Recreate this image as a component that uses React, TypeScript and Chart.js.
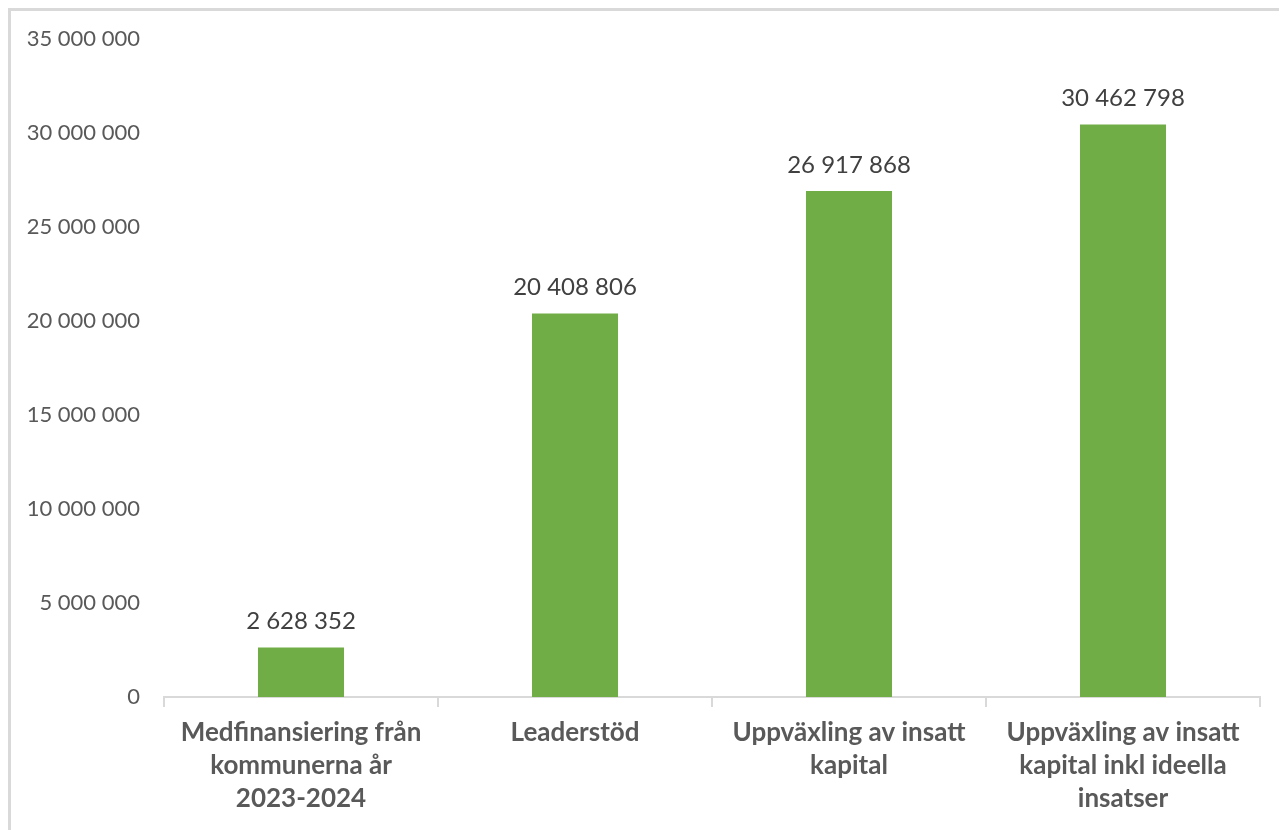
import React, { useEffect, useRef } from "react";
import { Chart, registerables } from "chart.js";

Chart.register(...registerables);

const categories: string[][] = [
  ["Medfinansiering från", "kommunerna år", "2023-2024"],
  ["Leaderstöd"],
  ["Uppväxling av insatt", "kapital"],
  ["Uppväxling av insatt", "kapital inkl ideella", "insatser"],
];
const values: number[] = [2628352, 20408806, 26917868, 30462798];
const yMax = 35000000;
const yStep = 5000000;

const fmt = (v: number) =>
  Math.round(v)
    .toString()
    .replace(/\B(?=(\d{3})+(?!\d))/g, " ");

const FONT = "Lato, 'Open Sans', sans-serif";

const labelPlugin = {
  id: "barLabels",
  afterDatasetsDraw(chart: any) {
    const ctx = chart.ctx;
    const meta = chart.getDatasetMeta(0);
    ctx.save();
    ctx.font = `24px ${FONT}`;
    ctx.fillStyle = "#404040";
    ctx.textAlign = "center";
    ctx.textBaseline = "middle";
    meta.data.forEach((bar: any, i: number) => {
      ctx.fillText(fmt(values[i]), bar.x, bar.y - 26);
    });
    ctx.restore();
  },
};

export default function App() {
  const ref = useRef<HTMLCanvasElement | null>(null);
  useEffect(() => {
    if (!ref.current) return;
    const chart = new Chart(ref.current, {
      type: "bar",
      data: {
        labels: categories as any,
        datasets: [
          {
            data: values,
            backgroundColor: "#70AD47",
            categoryPercentage: 1,
            barPercentage: 0.314,
          },
        ],
      },
      options: {
        animation: false,
        responsive: false,
        maintainAspectRatio: false,
        layout: { padding: { top: 0, right: 27, left: 0, bottom: 0 } },
        plugins: { legend: { display: false }, tooltip: { enabled: false } },
        scales: {
          x: {
            offset: true,
            grid: {
              display: true,
              drawOnChartArea: false,
              drawTicks: true,
              tickLength: 10,
              color: "#d9d9d9",
              lineWidth: 2,
              offset: true,
            },
            border: { display: true, color: "#d9d9d9", width: 2 },
            ticks: {
              color: "#595959",
              font: { family: FONT, size: 26, weight: "bold", lineHeight: 1.27 },
              padding: 9,
              maxRotation: 0,
              minRotation: 0,
              autoSkip: false,
            },
            afterFit(scale: any) {
              scale.height = 133;
            },
          },
          y: {
            min: 0,
            max: yMax,
            grid: { display: false, drawTicks: false },
            border: { display: false },
            ticks: {
              stepSize: yStep,
              color: "#595959",
              font: { family: FONT, size: 22 },
              padding: 24,
              callback: (v: any) => fmt(Number(v)),
            },
            afterFit(scale: any) {
              scale.width = 153;
            },
          },
        },
      },
      plugins: [labelPlugin],
    });
    return () => chart.destroy();
  }, []);

  return (
    <div
      style={{
        width: 1279,
        height: 822,
        boxSizing: "border-box",
        borderTop: "3px solid #d9d9d9",
        borderLeft: "3px solid #d9d9d9",
        background: "#fff",
        position: "relative",
      }}
    >
      <canvas
        ref={ref}
        width={1276}
        height={828}
        style={{ display: "block", position: "absolute", left: 0, top: -9 }}
      />
    </div>
  );
}
